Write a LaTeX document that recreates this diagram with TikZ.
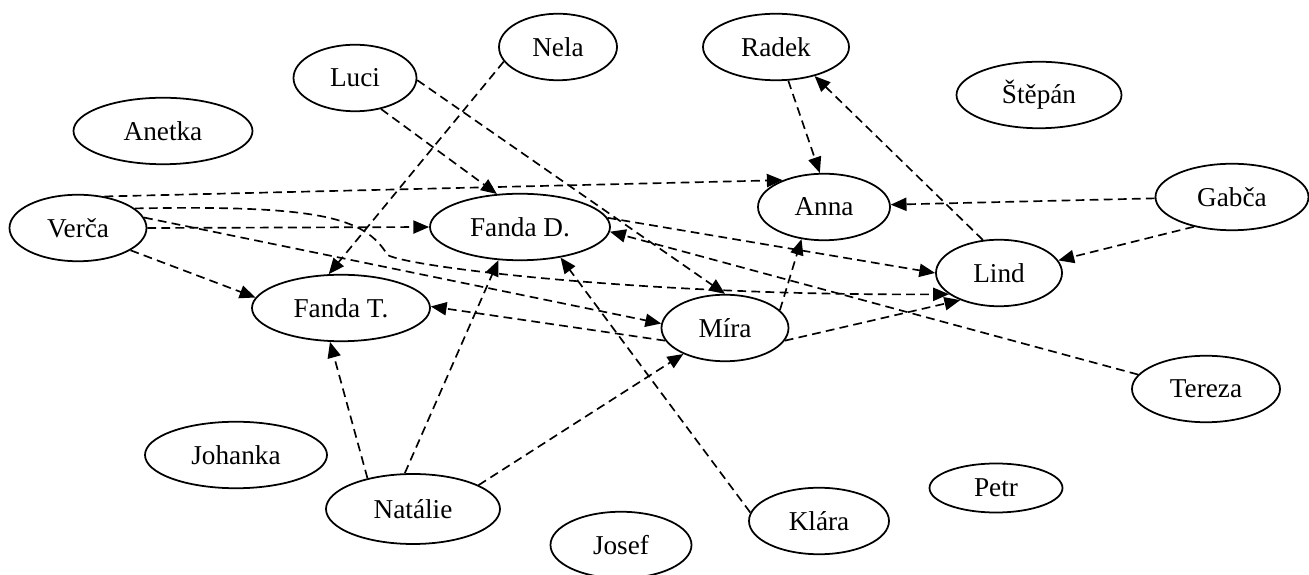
\documentclass[tikz,border=0pt]{standalone}
\usepackage{fontspec}
\setmainfont{Liberation Serif}
\usetikzlibrary{shapes.geometric,arrows.meta}

\begin{document}
\begin{tikzpicture}[
    osoba/.style={draw, ellipse, line width=1pt, inner sep=0pt,
        minimum height=1.33cm, font=\fontsize{15.5}{18}\selectfont},
    sipka/.style={dash pattern=on 5pt off 3pt, line width=0.95pt,
        -{Triangle[length=9pt,width=7.5pt]}}]
    \useasboundingbox (0,0) rectangle (26.18,-11.5);

        \node[osoba, minimum width=2.36cm] (nela) at (11.16,-0.94) {Nela};
        \node[osoba, minimum width=2.92cm] (radek) at (15.52,-0.94) {Radek};
        \node[osoba, minimum width=2.46cm] (luci) at (7.10,-1.56) {Luci};
        \node[osoba, minimum width=3.30cm] (stepan) at (20.78,-1.90) {Štěpán};
        \node[osoba, minimum width=3.58cm] (anetka) at (3.26,-2.62) {Anetka};
        \node[osoba, minimum width=2.64cm] (anna) at (16.48,-4.14) {Anna};
        \node[osoba, minimum width=3.06cm] (gabca) at (24.64,-3.94) {Gabča};
        \node[osoba, minimum width=2.74cm] (verca) at (1.56,-4.56) {Verča};
        \node[osoba, minimum width=3.60cm] (fandaD) at (10.40,-4.54) {Fanda D.};
        \node[osoba, minimum width=2.52cm] (lind) at (19.98,-5.46) {Lind};
        \node[osoba, minimum width=3.56cm] (fandaT) at (6.82,-6.16) {Fanda T.};
        \node[osoba, minimum width=2.54cm] (mira) at (14.50,-6.56) {Míra};
        \node[osoba, minimum width=2.96cm] (tereza) at (24.12,-7.78) {Tereza};
        \node[osoba, minimum width=3.64cm] (johanka) at (4.72,-9.10) {Johanka};
        \node[osoba, minimum width=3.48cm, minimum height=1.40cm] (natalie) at (8.26,-10.18) {Natálie};
        \node[osoba, minimum width=2.80cm] (klara) at (16.38,-10.42) {Klára};
        \node[osoba, minimum width=2.82cm] (josef) at (12.42,-10.90) {Josef};
        \node[osoba, minimum width=2.66cm, minimum height=0.98cm] (petr) at (19.92,-9.76) {Petr};

        \draw[sipka] (nela.195) -- (fandaT.110);
        \draw[sipka] (luci.310) -- (fandaD.125);
        \draw[sipka] (luci.358) -- (mira.90);
        \draw[sipka] (radek.290) -- (anna.97);
        \draw[sipka] (lind.116) -- (radek.323);

        \draw[sipka] (verca.50) -- (anna.147);
        \draw[sipka] (verca.0) -- (fandaD.180);
        \draw[sipka] (verca.9) -- (mira.176);
        \draw[sipka] (verca.337) -- (fandaT.173);
        \coordinate (ohyb) at (7.75,-5.1);
        \draw[sipka] (verca.19) .. controls (6.4,-4.1) and (7.3,-4.35) .. (ohyb)
            .. controls (8.2,-5.35) and (13,-5.92) .. (lind.203);

        \draw[sipka] (gabca.181) -- (anna.2);
        \draw[sipka] (gabca.218) -- (lind.12);
        \draw[sipka] (fandaD.6) -- (lind.180);
        \draw[sipka] (tereza.168) -- (fandaD.357);

        \draw[sipka] (mira.192) -- (fandaT.1);
        \draw[sipka] (mira.18) -- (anna.235);
        \draw[sipka] (mira.348) -- (lind.215);

        \draw[sipka] (natalie.146) -- (fandaT.252);
        \draw[sipka] (natalie.103) -- (fandaD.237);
        \draw[sipka] (natalie.20) -- (mira.212);
        \draw[sipka] (klara.173) -- (fandaD.323);

    \end{tikzpicture}
\end{document}
